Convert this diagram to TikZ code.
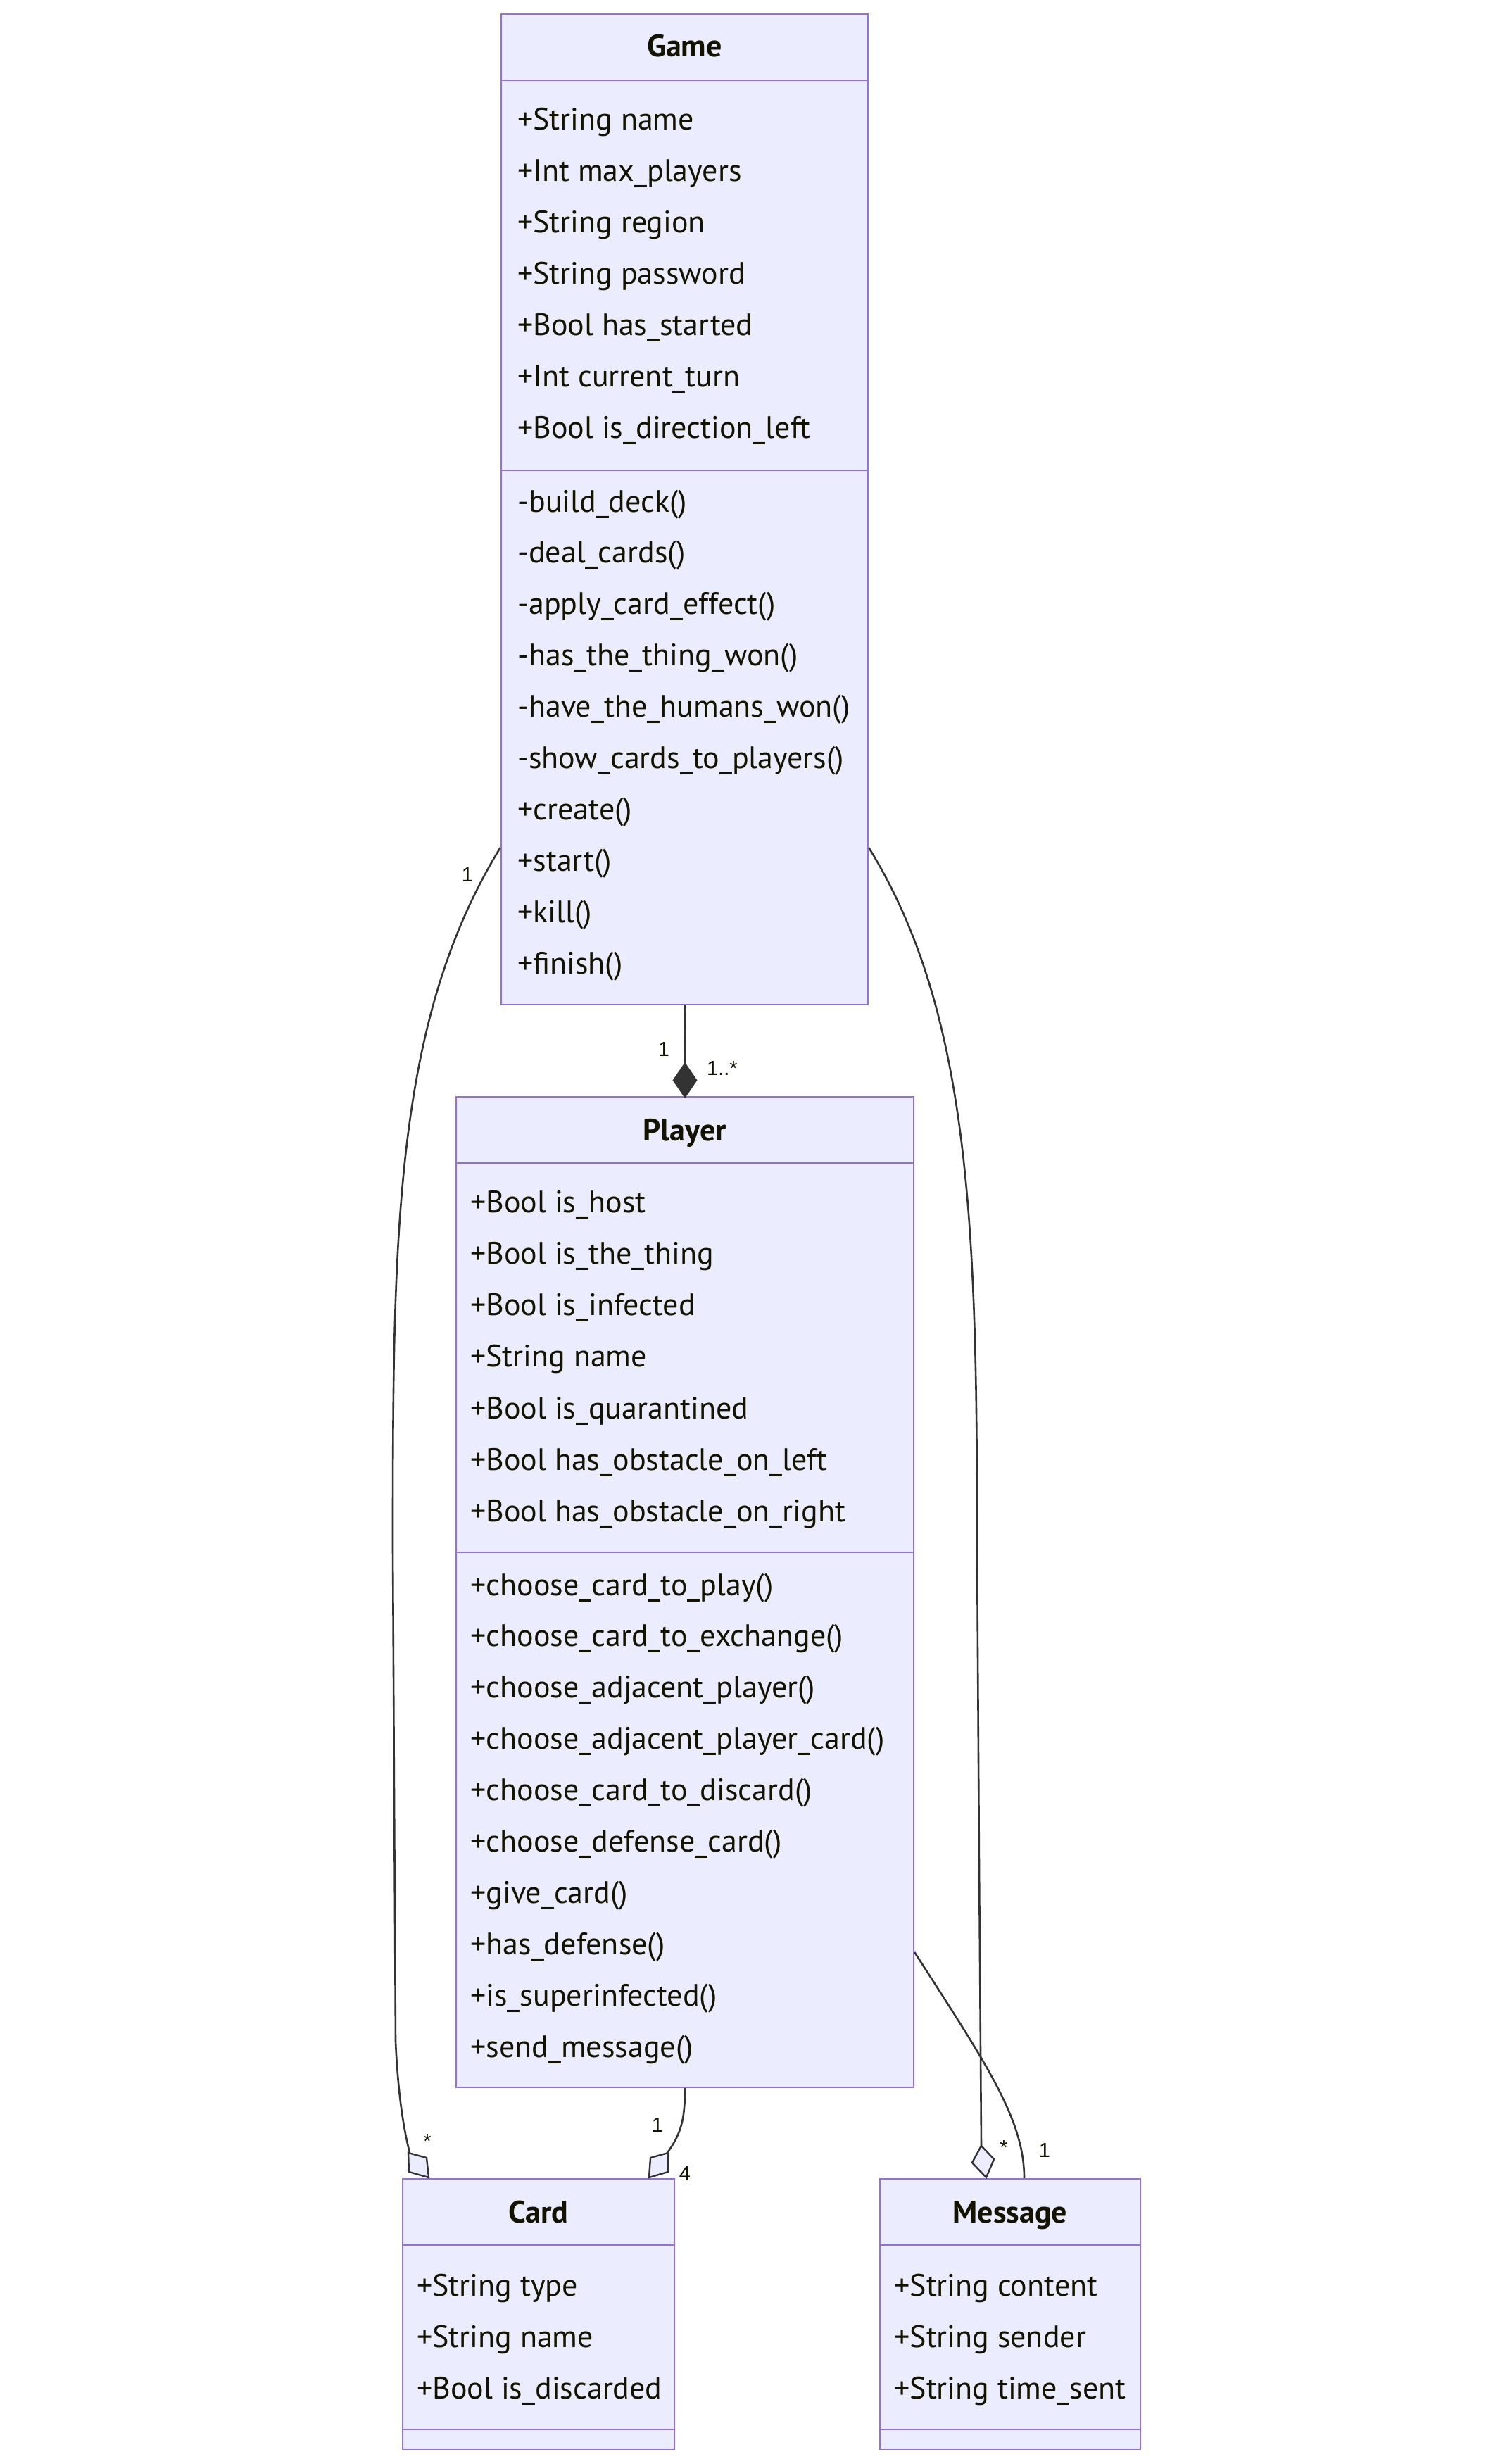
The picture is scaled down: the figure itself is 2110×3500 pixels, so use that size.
\documentclass[tikz,border=0pt]{standalone}
\usepackage{fontspec}
\setmainfont{PT Sans}
\newfontfamily\labelfont{Liberation Sans}
\usetikzlibrary{fit}
\definecolor{boxfill}{HTML}{ECECFF}
\definecolor{boxline}{HTML}{9370DB}
\definecolor{edgecol}{HTML}{333333}
\definecolor{txt}{HTML}{131300}
\tikzset{
  classbox/.style={draw=boxline, fill=boxfill, line width=1.2pt, inner sep=0pt},
  sepline/.style={draw=boxline, line width=1.2pt},
  member/.style={anchor=base west, inner sep=0pt, text=txt, font=\fontsize{22}{26}\selectfont},
  ctitle/.style={anchor=base, inner sep=0pt, text=txt, font=\fontsize{22}{26}\selectfont\bfseries},
  mult/.style={anchor=base, inner sep=0pt, text=txt, font=\labelfont\fontsize{14.5}{17}\selectfont},
  rel/.style={draw=edgecol, line width=1.3pt},
  aggr/.style={draw=edgecol, fill=boxfill, line width=1.2pt, line join=miter},
  compo/.style={draw=edgecol, fill=edgecol, line width=1.2pt},
}
\begin{document}
\begin{tikzpicture}[x=0.5pt,y=-0.5pt]
\useasboundingbox[fill=white] (0,0) rectangle (2110,3500);

% ---------- Game ----------
\node[classbox, fit={(712,20) (1233,1427)}] (game) {};
\draw[sepline] (game.west |- 0,114) -- (game.east |- 0,114);
\draw[sepline] (game.west |- 0,668) -- (game.east |- 0,668);
\node[ctitle] (game-t) at (972.5,81) {Game};
\foreach \t [count=\i] in {+String name,+Int max\_players,+String region,+String password,+Bool has\_started,+Int current\_turn,+Bool is\_direction\_left}
  \node[member] (game-a\i) at (735,{184.6+72.9*(\i-1)}) {\t};
\foreach \t [count=\i] in {-build\_deck(),-deal\_cards(),-apply\_card\_effect(),-has\_the\_thing\_won(),-have\_the\_humans\_won(),-show\_cards\_to\_players(),+create(),+start(),+kill(),+finish()}
  \node[member] (game-m\i) at (735,{727+72.9*(\i-1)}) {\t};

% ---------- Player ----------
\node[classbox, fit={(648,1558) (1298,2965)}] (player) {};
\draw[sepline] (player.west |- 0,1652) -- (player.east |- 0,1652);
\draw[sepline] (player.west |- 0,2205) -- (player.east |- 0,2205);
\node[ctitle] (player-t) at (973,1620) {Player};
\foreach \t [count=\i] in {+Bool is\_host,+Bool is\_the\_thing,+Bool is\_infected,+String name,+Bool is\_quarantined,+Bool has\_obstacle\_on\_left,+Bool has\_obstacle\_on\_right}
  \node[member] (player-a\i) at (668,{1722+73.3*(\i-1)}) {\t};
\foreach \t [count=\i] in {+choose\_card\_to\_play(),+choose\_card\_to\_exchange(),+choose\_adjacent\_player(),+choose\_adjacent\_player\_card(),+choose\_card\_to\_discard(),+choose\_defense\_card(),+give\_card(),+has\_defense(),+is\_superinfected(),+send\_message()}
  \node[member] (player-m\i) at (668,{2266+72.9*(\i-1)}) {\t};

% ---------- Card ----------
\node[classbox, fit={(572,3095) (958,3479)}] (card) {};
\draw[sepline] (card.west |- 0,3189) -- (card.east |- 0,3189);
\draw[sepline] (card.west |- 0,3451) -- (card.east |- 0,3451);
\node[ctitle] (card-t) at (765,3157) {Card};
\foreach \t [count=\i] in {+String type,+String name,+Bool is\_discarded}
  \node[member] (card-a\i) at (592,{3261+73*(\i-1)}) {\t};

% ---------- Message ----------
\node[classbox, fit={(1250,3095) (1620,3479)}] (message) {};
\draw[sepline] (message.west |- 0,3189) -- (message.east |- 0,3189);
\draw[sepline] (message.west |- 0,3451) -- (message.east |- 0,3451);
\node[ctitle] (message-t) at (1435,3157) {Message};
\foreach \t [count=\i] in {+String content,+String sender,+String time\_sent}
  \node[member] (message-a\i) at (1270,{3261+73*(\i-1)}) {\t};

% ---------- connection points ----------
\coordinate (gL) at (game.west |- 0,1204);
\coordinate (gR) at (game.east |- 0,1204);
\coordinate (pR) at (player.east |- 0,2773);
\coordinate (compTop) at (973,1511);
\coordinate (cLtop) at (582,3058);
\coordinate (cRtop) at (948,3058);
\coordinate (mDtop) at (1394,3048);
\coordinate (mTop) at (message.north -| 1455,0);

% ---------- relations ----------
\draw[rel] (game.south) -- (compTop);
\draw[compo] (973,1511) -- (989,1534.5) -- (973,1558) -- (957,1534.5) -- cycle;

\draw[rel] (gL) .. controls (560,1450) and (558,1750) .. (558,2200)
  -- (562,2900) .. controls (566,2985) and (575,3030) .. (cLtop);
\draw[aggr] (580,3058) -- (606,3065) -- (609,3093) -- (581,3085) -- cycle;

\draw[rel] (player.south) .. controls (973,3010) and (968,3030) .. (cRtop);
\draw[aggr] (949,3058) -- (949,3085) -- (922,3093) -- (924,3065) -- cycle;

\draw[rel] (gR) .. controls (1380,1440) and (1388,1750) .. (1388,2200)
  -- (1391,2650) -- (mDtop);
\draw[aggr] (1394,3048) -- (1412,3067) -- (1401,3093) -- (1381,3072) -- cycle;

\draw[rel] (pR) .. controls (1400,2930) and (1455,3010) .. (mTop);

% ---------- multiplicities ----------
\node[mult] (l-gc1) at (664,1252.5) {1};
\node[mult] (l-gp1) at (943,1500.5) {1};
\node[mult] (l-gp2) at (1026,1527.5) {1..*};
\node[mult] (l-gc2) at (607,3051) {*};
\node[mult] (l-pc1) at (934,3028) {1};
\node[mult] (l-pc2) at (973,3097) {4};
\node[mult] (l-gm2) at (1426,3060) {*};
\node[mult] (l-pm1) at (1484,3064) {1};
\end{tikzpicture}
\end{document}
